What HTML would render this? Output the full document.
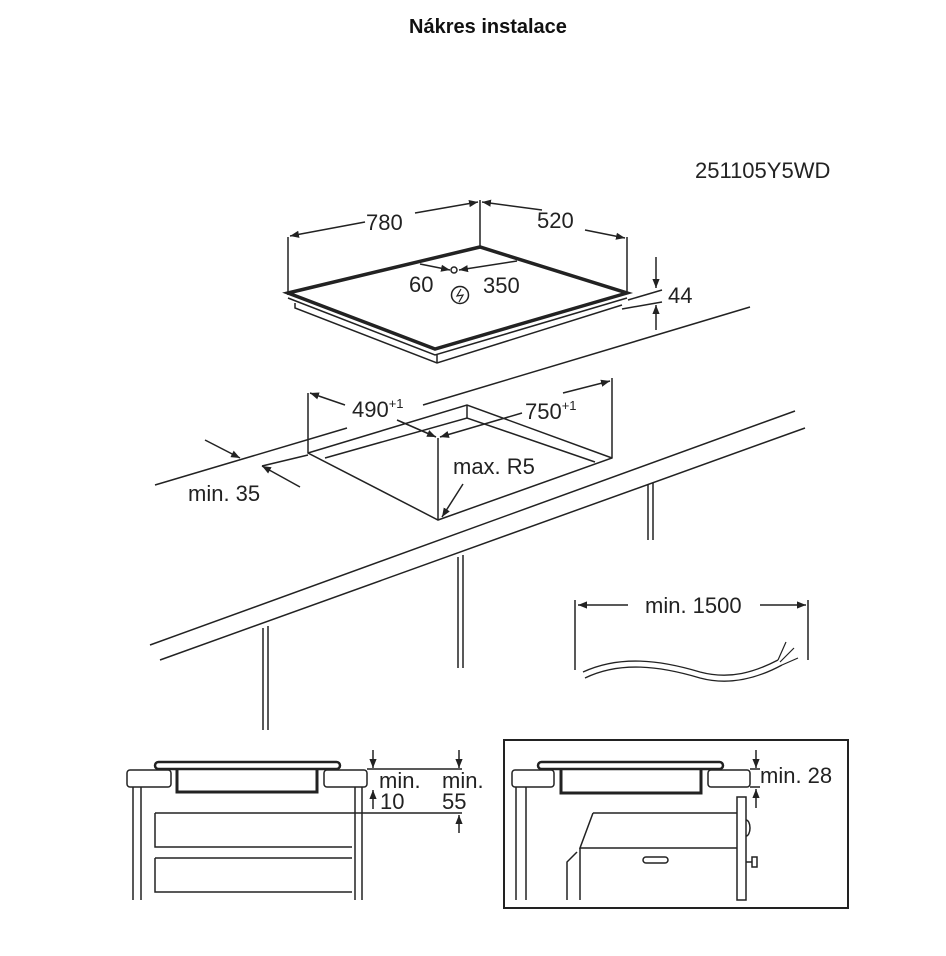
<!DOCTYPE html>
<html><head><meta charset="utf-8"><style>
html,body{margin:0;padding:0;background:#fff;width:946px;height:956px;overflow:hidden}
svg{display:block}
text{font-family:"Liberation Sans",sans-serif;fill:#222}
</style></head><body>
<svg width="946" height="956" viewBox="0 0 946 956" xmlns="http://www.w3.org/2000/svg">
<defs>
<marker id="a" viewBox="0 0 10 10" refX="10" refY="5" markerWidth="9" markerHeight="9" orient="auto-start-reverse" markerUnits="userSpaceOnUse"><path d="M0,1 L10,5 L0,9 z" fill="#222"/></marker>
</defs>
<text x="488" y="33" text-anchor="middle" font-size="20" font-weight="bold" style="fill:#111">Nákres instalace</text>
<text x="695" y="178" font-size="22">251105Y5WD</text>

<g stroke="#222" fill="none" stroke-width="1.5">
<path d="M288,237 V295 M480,200 V248 M627,237 V293"/>
<path d="M288,293 L480,247 L627,293 L435,349 Z" stroke-width="3.5" fill="#fff"/>
<path d="M288,298 L435,355 L627,298"/>
<path d="M295,303 V308 L437,363 L622,305 M437,355 V363"/>
<circle cx="454" cy="270" r="3"/>
<circle cx="460" cy="295" r="8.5"/>
<path d="M461,289 L457,296 L463,295 L459,302" stroke-width="1.2"/>
<line x1="420" y1="264" x2="450" y2="270" marker-end="url(#a)"/>
<line x1="517" y1="261" x2="459" y2="270" marker-end="url(#a)"/>
<line x1="365" y1="222" x2="290" y2="236" marker-end="url(#a)"/>
<line x1="415" y1="213" x2="478" y2="202" marker-end="url(#a)"/>
<line x1="542" y1="210" x2="482" y2="202" marker-end="url(#a)"/>
<line x1="585" y1="230" x2="625" y2="238" marker-end="url(#a)"/>
<path d="M628,300 L662,290 M622,309 L662,302"/>
<line x1="656" y1="257" x2="656" y2="288" marker-end="url(#a)"/>
<line x1="656" y1="330" x2="656" y2="305" marker-end="url(#a)"/>

<path d="M155,485 L347,428 M423,405 L750,307"/>
<path d="M150,645 L795,411 M160,660 L805,428"/>
<path d="M205,440 L240,458" marker-end="url(#a)"/>
<path d="M300,487 L262,466" marker-end="url(#a)"/>
<path d="M262,466 L308,455"/>
<path d="M308,393 V453 L438,520 L612,458 V378"/>
<path d="M308,453 L467,405 L612,458"/>
<path d="M325,458 L467,418 L595,462"/>
<path d="M467,405 V418 M438,438 V520"/>
<line x1="345" y1="405" x2="310" y2="393" marker-end="url(#a)"/>
<line x1="397" y1="420" x2="436" y2="437" marker-end="url(#a)"/>
<line x1="522" y1="413" x2="440" y2="437" marker-end="url(#a)"/>
<line x1="563" y1="393" x2="610" y2="381" marker-end="url(#a)"/>
<line x1="463" y1="484" x2="442" y2="517" marker-end="url(#a)"/>
<path d="M263,628 V730 M268,626 V730 M458,557 V668 M463,555 V668 M648,485 V540 M653,483 V540"/>
<path d="M575,600 V670 M808,600 V660"/>
<line x1="628" y1="605" x2="578" y2="605" marker-end="url(#a)"/>
<line x1="760" y1="605" x2="806" y2="605" marker-end="url(#a)"/>
<path d="M583,672 C620,655 660,660 700,672 C730,680 755,672 778,660" stroke-width="1.3"/>
<path d="M585,678 C620,661 660,666 700,678 C730,686 758,678 782,665" stroke-width="1.3"/>
<path d="M778,660 L786,642 M780,662 L794,648 M782,665 L798,658" stroke-width="1.2"/>

<rect x="155" y="762" width="185" height="7" rx="3.5" stroke-width="2.5"/>
<rect x="127" y="770" width="44" height="17" rx="3"/>
<rect x="324" y="770" width="43" height="17" rx="3"/>
<path d="M177,769 V792 H317 V769" stroke-width="3"/>
<path d="M133,787 V900 M141,787 V900 M355,787 V900 M362,787 V900"/>
<path d="M155,813 H352 M155,813 V847 H352 M155,858 H352 M155,858 V892 H352"/>
<path d="M367,769 H462 M352,813 H462"/>
<line x1="373" y1="750" x2="373" y2="768" marker-end="url(#a)"/>
<line x1="373" y1="809" x2="373" y2="790" marker-end="url(#a)"/>
<line x1="459" y1="750" x2="459" y2="768" marker-end="url(#a)"/>
<line x1="459" y1="833" x2="459" y2="815" marker-end="url(#a)"/>

<rect x="504" y="740" width="344" height="168" stroke-width="2"/>
<rect x="538" y="762" width="185" height="7" rx="3.5" stroke-width="2.5"/>
<rect x="512" y="770" width="42" height="17" rx="3"/>
<rect x="708" y="770" width="42" height="17" rx="3"/>
<path d="M561,769 V793 H701 V769" stroke-width="3"/>
<path d="M516,787 V900 M526,787 V900"/>
<path d="M593,813 H737 M593,813 L580,848 H737 M580,848 V900 M577,852 L567,862 V900"/>
<rect x="737" y="797" width="9" height="103"/>
<path d="M746,820 A4,8 0 0 1 746,836"/>
<path d="M746,862 H752 M752,857 H757 V867 H752 Z"/>
<rect x="643" y="857" width="25" height="6" rx="3"/>
<path d="M750,769 H760 M750,787 H760"/>
<line x1="756" y1="750" x2="756" y2="768" marker-end="url(#a)"/>
<line x1="756" y1="808" x2="756" y2="789" marker-end="url(#a)"/>
</g>

<g font-size="22">
<text x="366" y="230">780</text>
<text x="537" y="228">520</text>
<text x="409" y="292">60</text>
<text x="483" y="293">350</text>
<text x="668" y="303">44</text>
<text x="352" y="417">490<tspan font-size="13" dy="-9">+1</tspan></text>
<text x="525" y="419">750<tspan font-size="13" dy="-9">+1</tspan></text>
<text x="453" y="474">max. R5</text>
<text x="188" y="501">min. 35</text>
<text x="645" y="613">min. 1500</text>
<text x="379" y="788">min.</text>
<text x="380" y="809">10</text>
<text x="442" y="788">min.</text>
<text x="442" y="809">55</text>
<text x="760" y="783">min. 28</text>
</g>
</svg>
</body></html>
